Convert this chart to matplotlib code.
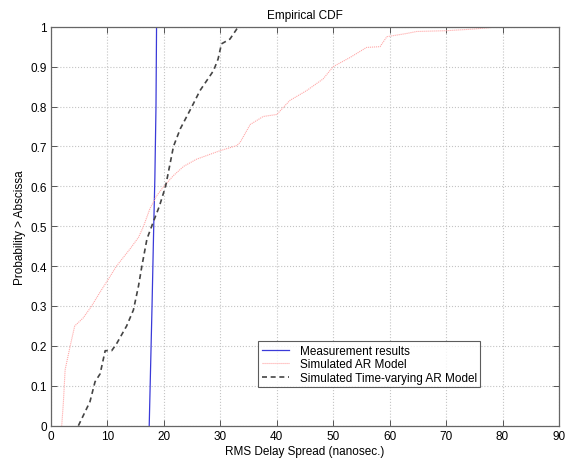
import matplotlib
matplotlib.use("Agg")
import matplotlib.pyplot as plt
from matplotlib.ticker import FuncFormatter, MultipleLocator

plt.rcParams['font.family'] = ['Liberation Sans', 'DejaVu Sans']

# Measurement results (blue)
meas_x = [17.4, 17.9, 18.2, 18.4, 18.6, 18.7, 19.2]
meas_y = [0.0, 0.3, 0.5, 0.62, 0.8, 1.0, 1.0]

# Simulated AR model (light red)
ar_x = [1.9, 2.2, 2.5, 3.4, 4.2, 5.7, 7.2, 8.7, 10.2, 11.6, 14.0, 15.5, 16.4,
        17.5, 18.7, 20.0, 21.7, 23.5, 25.8, 29.9, 32.9, 33.5, 35.3, 37.6, 40.0,
        42.3, 45.3, 48.2, 50.0, 53.0, 55.9, 58.3, 59.5, 63.0, 64.8, 70.0, 74.8, 79.6]
ar_y = [0.0, 0.06, 0.14, 0.2, 0.25, 0.27, 0.3, 0.335, 0.368, 0.4, 0.443, 0.472, 0.5,
        0.543, 0.576, 0.6, 0.627, 0.65, 0.668, 0.689, 0.702, 0.71, 0.755, 0.775, 0.78,
        0.815, 0.84, 0.869, 0.9, 0.923, 0.948, 0.95, 0.975, 0.983, 0.988, 0.99, 0.994, 1.0]

# Simulated time-varying AR model (dark dashed)
tv_x = [4.85, 6.9, 7.8, 8.7, 9.6, 10.75, 11.6, 13.4, 14.6, 15.5, 16.1, 17.0, 18.1,
        19.2, 20.3, 21.7, 22.9, 24.9, 26.4, 28.8, 29.6, 30.2, 31.7, 32.9, 33.8]
tv_y = [0.0, 0.06, 0.11, 0.13, 0.188, 0.188, 0.205, 0.25, 0.29, 0.35, 0.4, 0.468, 0.51,
        0.55, 0.6, 0.70, 0.744, 0.798, 0.84, 0.89, 0.919, 0.957, 0.969, 0.994, 1.0]

labels = ["Measurement results", "Simulated AR Model", "Simulated Time-varying AR Model"]

fig = plt.figure(figsize=(5.83, 4.6), dpi=100)
ax = fig.add_axes([51/583, 1 - 426.7/460, 508/583, 399/460])

ax.plot(meas_x, meas_y, color='#3a3ad8', lw=0.9, label=labels[0])
ax.plot(ar_x, ar_y, color='#ffa8a8', lw=0.8, linestyle=(0, (1, 0.8)), label=labels[1])
ax.plot(tv_x, tv_y, color='#444444', lw=1.2, linestyle=(0, (3, 2.2)), label=labels[2])

ax.set_xlim(0, 90)
ax.set_ylim(0, 1)
ax.xaxis.set_major_locator(MultipleLocator(10))
ax.yaxis.set_major_locator(MultipleLocator(0.1))
ax.yaxis.set_major_formatter(FuncFormatter(lambda v, p: '%g' % round(v, 2)))
ax.grid(True, color='#c4c4c4', linestyle=':', lw=0.8)
ax.tick_params(direction='in', top=True, right=True, labelsize=8.5, length=4,
               color='#555555', width=0.7, pad=3)
for s in ax.spines.values():
    s.set_color('#666666')
    s.set_linewidth(0.9)

ax.set_title("Empirical CDF", fontsize=8.5, pad=6)
ax.set_xlabel("RMS Delay Spread (nanosec.)", fontsize=8.5, labelpad=2)
ax.set_ylabel("Probability > Abscissa", fontsize=8.5, labelpad=3)

leg = ax.legend(loc='lower left', bbox_to_anchor=(0.408, 0.096), fontsize=8.5,
                frameon=True, fancybox=False, edgecolor='#333333',
                handlelength=2.3, labelspacing=0.12, borderpad=0.3,
                handletextpad=0.9, borderaxespad=0)
leg.get_frame().set_linewidth(0.8)

fig.savefig("out.png", dpi=100)
